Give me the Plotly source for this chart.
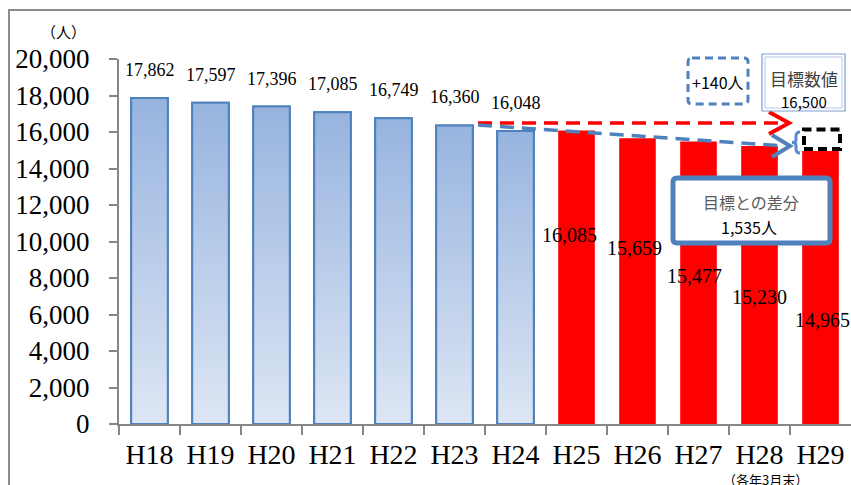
import plotly.graph_objects as go

# Staff headcount by fiscal year (end of March)
years = ["H18", "H19", "H20", "H21", "H22", "H23", "H24",
         "H25", "H26", "H27", "H28", "H29"]
actual = [17862, 17597, 17396, 17085, 16749, 16360, 16048]
plan = [16085, 15659, 15477, 15230, 14965]
target = 16500
gap_text = "1,535人"
extra_text = "+140人"

# label offsets (pixels) for the plan values
plan_label_dx = [-7, -3, -4, 0, 2]
plan_label_dy = [-105, -110, -134, -151, -169]

W, H = 851, 485
ML, MR, MT, MB = 119, 0, 59, 61
PW, PH = W - ML - MR, H - MT - MB
YMAX = 20000
N = len(years)
BAR_W = 0.6

SERIF = "Liberation Serif, Noto Sans CJK JP"
SANS = "Noto Sans CJK JP, Liberation Sans"
BLUE = "#4F81BD"
AXIS = "#868686"


def px(x):  # page x -> paper x
    return (x - ML) / PW


def py(y):  # page y -> paper y
    return (H - MB - y) / PH


def dx(x):  # page x -> data x
    return (x - ML) / PW * N - 0.5


def dy(y):  # page y -> data y
    return (H - MB - y) / PH * YMAX


idx_a = list(range(len(actual)))
idx_p = list(range(len(actual), N))

fig = go.Figure()

# actual bars (base colour + outline)
fig.add_trace(go.Bar(x=idx_a, y=actual, width=BAR_W,
                     marker=dict(color="#B9CDE5", line=dict(color=BLUE, width=2)),
                     hoverinfo="skip"))
# plan bars
fig.add_trace(go.Bar(x=idx_p, y=plan, width=BAR_W,
                     marker=dict(color="#FF0000", line=dict(width=0)),
                     hoverinfo="skip"))

# vertical gradient fill on each actual bar
for i, v in zip(idx_a, actual):
    h = BAR_W / 2
    fig.add_trace(go.Scatter(
        x=[i - h, i + h, i + h, i - h, i - h], y=[0, 0, v, v, 0],
        mode="lines", fill="toself",
        fillgradient=dict(type="vertical",
                          colorscale=[[0, "#DDE6F4"], [1, "#97B4DF"]]),
        line=dict(color=BLUE, width=2), hoverinfo="skip"))

anns = []
for i, v in zip(idx_a, actual):
    anns.append(dict(x=i, y=v, yshift=28, text=f"{v:,}", showarrow=False,
                     font=dict(family=SERIF, size=18, color="black")))
for i, v, ox, oy in zip(idx_p, plan, plan_label_dx, plan_label_dy):
    anns.append(dict(x=i, y=v, xshift=ox, yshift=oy, text=f"{v:,}",
                     showarrow=False,
                     font=dict(family=SERIF, size=20, color="black")))

shapes = []


def seg(points, color, width, dash="solid"):
    path = "M " + " L ".join(f"{dx(a)},{dy(b)}" for a, b in points)
    shapes.append(dict(type="path", xref="x", yref="y", path=path,
                       line=dict(color=color, width=width, dash=dash)))


# target line (red) and trend line (blue) with open arrow heads
ty = H - MB - target / YMAX * PH
seg([(478, ty), (784, ty)], "#FF0000", 3.5, "14px,8px")
seg([(769, ty - 11), (789, ty), (769, ty + 11)], "#FF0000", 4)
seg([(478, 125), (784, 146)], BLUE, 3.5, "14px,8px")
seg([(772, 135), (790, 146), (772, 157)], BLUE, 4)

# brace
b = [(800, 132), (796, 132), (796, 136), (796, 140), (796, 142.5), (792, 142.5),
     (796, 142.5), (796, 145), (796, 149), (796, 153), (800, 153)]
brace = (f"M {dx(b[0][0])},{dy(b[0][1])} "
         f"Q {dx(b[1][0])},{dy(b[1][1])} {dx(b[2][0])},{dy(b[2][1])} "
         f"L {dx(b[3][0])},{dy(b[3][1])} "
         f"Q {dx(b[4][0])},{dy(b[4][1])} {dx(b[5][0])},{dy(b[5][1])} "
         f"Q {dx(b[6][0])},{dy(b[6][1])} {dx(b[7][0])},{dy(b[7][1])} "
         f"L {dx(b[8][0])},{dy(b[8][1])} "
         f"Q {dx(b[9][0])},{dy(b[9][1])} {dx(b[10][0])},{dy(b[10][1])}")
shapes.append(dict(type="path", xref="x", yref="y", path=brace,
                   line=dict(color="#5B8BD0", width=3)))

# black dashed box over the last bar
shapes.append(dict(type="rect", xref="x", yref="y",
                   x0=dx(804), x1=dx(840), y0=dy(149), y1=dy(129.5),
                   line=dict(color="black", width=4, dash="9px,5px")))


def rrect(x0, y0, x1, y1, r, line, fill="white"):
    p = (f"M {px(x0 + r)},{py(y0)} L {px(x1 - r)},{py(y0)} "
         f"Q {px(x1)},{py(y0)} {px(x1)},{py(y0 + r)} "
         f"L {px(x1)},{py(y1 - r)} Q {px(x1)},{py(y1)} {px(x1 - r)},{py(y1)} "
         f"L {px(x0 + r)},{py(y1)} Q {px(x0)},{py(y1)} {px(x0)},{py(y1 - r)} "
         f"L {px(x0)},{py(y0 + r)} Q {px(x0)},{py(y0)} {px(x0 + r)},{py(y0)} Z")
    shapes.append(dict(type="path", xref="paper", yref="paper", path=p,
                       line=line, fillcolor=fill, layer="above"))


rrect(688, 58, 748, 104, 4, dict(color=BLUE, width=3, dash="8px,5px"), "rgba(0,0,0,0)")
rrect(762, 54, 845, 111, 0, dict(color="#7F9FCF", width=1.2))
rrect(765, 57, 842, 108, 0, dict(color="#B4C7E7", width=1))
rrect(673, 178, 830, 243, 4, dict(color=BLUE, width=5))

# outer frame
shapes.append(dict(type="rect", xref="paper", yref="paper",
                   x0=px(9), y0=py(10), x1=px(W + 20), y1=py(H + 20),
                   line=dict(color="#8C8C8C", width=2)))


def txt(x, y, s, size, color="black", family=SANS):
    anns.append(dict(x=px(x), y=py(y), xref="paper", yref="paper", text=s,
                     xanchor="center", yanchor="middle", showarrow=False,
                     font=dict(family=family, size=size, color=color)))


txt(718, 82, extra_text, 16)
txt(804, 78, "目標数値", 17, "#404040")
txt(804, 101, f"{target:,}", 15)
txt(751, 202, "目標との差分", 16, "#595959")
txt(749, 227, gap_text, 16)
txt(63, 33, "（人）", 15, family=SERIF)
txt(765, 479, "（各年3月末）", 13)

fig.update_layout(
    width=W, height=H,
    margin=dict(l=ML, r=MR, t=MT, b=MB),
    plot_bgcolor="white", paper_bgcolor="white",
    showlegend=False, barmode="overlay",
    shapes=shapes, annotations=anns,
    xaxis=dict(range=[-0.5, N - 0.5], tickvals=list(range(N)), ticktext=years,
               ticks="", showgrid=False, zeroline=False,
               showline=True, linecolor=AXIS, linewidth=2,
               tickfont=dict(family=SERIF, size=28, color="black"),
               ticklabelstandoff=4,
               minor=dict(tickvals=[i - 0.5 for i in range(N)], ticks="outside",
                          ticklen=9, tickwidth=2, tickcolor=AXIS, showgrid=False)),
    yaxis=dict(range=[0, YMAX], tickvals=list(range(0, YMAX + 1, 2000)),
               tickformat=",", ticks="outside", ticklen=8, tickwidth=2,
               tickcolor=AXIS, showline=True, linecolor=AXIS, linewidth=2,
               showgrid=False, zeroline=False,
               tickfont=dict(family=SERIF, size=27, color="black"),
               ticklabelstandoff=14),
)

fig.write_html("out.html")
